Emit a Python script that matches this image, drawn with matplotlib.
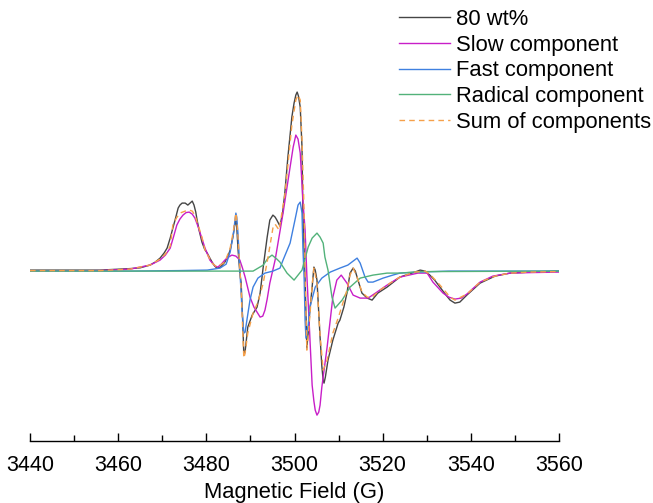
# -*- coding: utf-8 -*-
"""
EPR spectrum of the 80 wt% sample with its simulated components
"""

import matplotlib
matplotlib.use('Agg')
import matplotlib.pyplot as plt
from matplotlib.ticker import MultipleLocator

plt.rcParams['font.family'] = ['Liberation Sans', 'DejaVu Sans']

# Values: magnetic field (G) and intensity (a.u.)
field_exp = [3440.0, 3455.9, 3462.7, 3465.0, 3467.2, 3468.4, 3469.5, 3470.4, 3471.1, 3471.8,
             3472.4, 3472.9, 3473.6, 3474.0, 3474.5, 3475.2, 3475.8, 3476.3, 3476.8, 3477.2,
             3477.6, 3477.9, 3478.4, 3479.0, 3479.6, 3480.2, 3480.8, 3481.3, 3481.9, 3482.4,
             3483.2, 3484.2, 3484.9, 3485.4, 3486.1, 3486.5, 3486.7, 3486.9, 3487.2, 3487.6,
             3487.9, 3488.3, 3488.5, 3488.8, 3489.4, 3490.4, 3491.5, 3492.2, 3492.9, 3493.8,
             3494.4, 3495.1, 3495.6, 3496.0, 3496.7, 3497.3, 3497.8, 3498.5, 3499.4, 3499.9,
             3500.3, 3500.6, 3500.9, 3501.3, 3501.7, 3501.9, 3502.4, 3502.8, 3503.1, 3503.5,
             3504.0, 3504.4, 3504.7, 3505.1, 3505.8, 3506.2, 3506.5, 3506.7, 3507.0, 3507.6,
             3508.7, 3509.9, 3510.3, 3511.2, 3511.9, 3512.6, 3513.3, 3513.8, 3514.2, 3515.3,
             3516.5, 3517.6, 3518.9, 3521.0, 3523.9, 3527.3, 3528.5, 3529.6, 3530.7, 3531.8,
             3533.0, 3534.2, 3535.3, 3536.4, 3537.5, 3539.1, 3542.1, 3545.5, 3548.9, 3553.4,
             3560.0]
exp_80 = [1, 1, 2.5, 3.3, 6, 9, 13, 18, 23, 33,
          43, 51, 63, 66, 68, 68, 66, 68, 70, 66,
          59, 51, 40, 29, 22, 18, 13, 9, 5, 3,
          4, 9, 15, 21, 36, 48, 50, 44, 21, -2,
          -12, -56, -84, -80, -56, -44, -36, -22, 4, 34,
          51, 56, 54, 51, 45, 58, 78, 114, 154, 168,
          176, 179, 175, 164, 124, 58, -9, -77, -62, -39,
          -16, 4, 1, -9, -66, -95, -109, -112, -106, -89,
          -69, -52, -49, -36, -22, -2, 3, 0, -6, -22,
          -27, -29, -22, -16, -6, -1, 1, 0, -4, -9,
          -16, -23, -29, -32, -31, -24, -12, -5, -2, -1,
          0]

field_slow = [3440.0, 3455.9, 3462.7, 3467.2, 3469.5, 3470.7, 3471.8, 3472.6, 3473.3, 3474.0,
              3474.7, 3475.4, 3476.1, 3476.8, 3477.4, 3478.0, 3478.6, 3479.7, 3480.8, 3482.0,
              3482.6, 3483.4, 3484.2, 3485.0, 3485.8, 3486.7, 3487.6, 3488.2, 3488.8, 3489.9,
              3490.8, 3491.5, 3492.2, 3492.8, 3493.3, 3493.8, 3494.4, 3495.6, 3497.4, 3499.0,
              3499.7, 3500.3, 3500.8, 3501.3, 3501.9, 3502.4, 3502.8, 3503.3, 3504.0, 3504.4,
              3504.7, 3505.1, 3505.5, 3505.8, 3506.2, 3507.4, 3508.7, 3509.6, 3510.6, 3511.9,
              3513.3, 3514.9, 3516.7, 3518.7, 3521.0, 3523.9, 3528.0, 3530.1, 3531.4, 3533.7,
              3535.0, 3536.4, 3537.8, 3539.1, 3542.1, 3545.0, 3548.9, 3553.4, 3560.0]
slow = [0, 0.5, 2, 6, 11, 16, 23, 35, 46, 52,
        56, 58.5, 59, 57, 53, 46, 38, 23, 11, 5,
        4, 7, 11, 14, 16, 15, 11, 3, -6, -26,
        -36, -41, -46, -45, -39, -28, -12, 11, 58, 104,
        124, 136, 132, 118, 71, 41, -4, -49, -114, -130,
        -139, -144, -141, -134, -116, -76, -26, -9, -4, -12,
        -24, -27, -27, -21, -14, -6, -2, -2, -11, -22,
        -26, -28, -27, -23, -11, -5, -2, -1.5, -1]

field_fast = [3440.0, 3462.7, 3473.6, 3480.2, 3483.1, 3484.5, 3485.4, 3486.1, 3486.5, 3486.7,
              3486.9, 3487.2, 3487.6, 3488.1, 3488.5, 3488.8, 3489.2, 3489.9, 3490.6, 3491.7,
              3493.3, 3495.1, 3496.7, 3497.4, 3499.0, 3500.1, 3500.8, 3501.3, 3501.7, 3501.9,
              3502.2, 3502.4, 3502.6, 3503.1, 3503.5, 3504.7, 3506.2, 3508.1, 3510.3, 3512.1,
              3513.3, 3514.2, 3514.9, 3516.0, 3516.7, 3517.8, 3520.1, 3522.3, 3523.9, 3528.0,
              3535.0, 3560.0]
fast = [0, 0, 0.5, 1, 3, 7, 19, 36, 51, 58,
        54, 36, 1, -39, -62, -61, -49, -29, -16, -7,
        -2, 0, 3, 11, 28, 51, 66, 69, 58, 24,
        -9, -49, -67, -54, -36, -16, -7, -1, 3, 6,
        10, 13, 8, -6, -11, -11, -7, -4, -2, -1,
        0, 0]

field_rad = [3440.0, 3490.6, 3492.9, 3494.0, 3494.9, 3496.0, 3496.7, 3498.3, 3499.9, 3501.7,
             3503.1, 3504.0, 3505.1, 3505.8, 3506.5, 3506.9, 3507.6, 3508.5, 3509.2, 3510.8,
             3512.6, 3514.9, 3517.8, 3521.0, 3523.9, 3528.5, 3560.0]
radical = [0, 0, 6, 13, 16, 12, 9, -2, -9, 1,
           24, 33, 38, 34, 28, 14, 1, -26, -37, -29,
           -16, -7, -4, -2, -2, -0.5, 0]

field_sum = [3440.0, 3455.9, 3462.7, 3467.2, 3469.5, 3470.7, 3471.8, 3472.4, 3473.2, 3474.0,
             3475.2, 3476.1, 3476.8, 3477.4, 3477.9, 3479.0, 3479.7, 3481.3, 3482.4, 3484.2,
             3485.4, 3486.1, 3486.7, 3486.9, 3487.2, 3487.9, 3488.3, 3488.5, 3488.8, 3489.4,
             3490.6, 3491.7, 3492.9, 3494.0, 3495.1, 3495.6, 3496.5, 3497.8, 3498.5, 3499.4,
             3500.3, 3500.8, 3501.3, 3501.7, 3502.2, 3502.4, 3502.8, 3503.5, 3504.0, 3504.4,
             3505.1, 3505.8, 3506.5, 3507.4, 3508.7, 3509.9, 3511.9, 3512.6, 3513.3, 3514.2,
             3515.3, 3516.5, 3517.6, 3519.4, 3521.7, 3523.9, 3527.3, 3529.6, 3530.7, 3533.0,
             3535.3, 3536.4, 3539.1, 3542.1, 3545.5, 3548.9, 3553.4, 3560.0]
sum_comp = [0.5, 0.5, 2, 6, 12, 17, 25, 46, 53, 58,
            60, 61, 60, 56, 49, 34, 21, 8, 4, 9,
            23, 39, 58, 52, 33, -19, -64, -87, -82, -62,
            -42, -31, -12, 14, 43, 47, 41, 76, 106, 146,
            171, 176, 171, 131, 56, 1, -79, -44, -14, 3,
            -12, -64, -99, -89, -62, -47, -19, -4, 3, -6,
            -21, -26, -26, -19, -12, -6, -1, 0, -3, -14,
            -26, -29, -23, -11, -5, -2, -1, -0.5]

fig = plt.figure(figsize=(6.53, 5.03), dpi=100)
ax = fig.add_axes([0.046, 0.123, 0.810, 0.857])

ax.plot(field_exp, exp_80, color='#454545', lw=1.0, label='80 wt%')
ax.plot(field_slow, slow, color='#C81EC8', lw=1.0, label='Slow component')
ax.plot(field_fast, fast, color='#3F80E0', lw=1.0, label='Fast component')
ax.plot(field_rad, radical, color='#52B27A', lw=1.0, label='Radical component')
ax.plot(field_sum, sum_comp, color='#F5A04A', lw=1.0, ls=(0, (4, 3)), label='Sum of components')

ax.set_xlim(3440, 3560)
ax.set_ylim(-170, 261)
ax.xaxis.set_major_locator(MultipleLocator(20))
ax.xaxis.set_minor_locator(MultipleLocator(10))
ax.tick_params(axis='x', which='both', direction='in', labelsize=15.5, pad=10, width=1.0)
ax.tick_params(axis='x', which='major', length=6)
ax.tick_params(axis='x', which='minor', length=4)
ax.set_yticks([])
for side in ['top', 'right', 'left']:
    ax.spines[side].set_visible(False)
ax.spines['bottom'].set_linewidth(1.0)
ax.set_xlabel('Magnetic Field (G)', fontsize=15.8, labelpad=4.5)

leg = fig.legend(loc='upper right', bbox_to_anchor=(1.028, 1.022), frameon=False,
                 fontsize=15.8, handlelength=2.3, handletextpad=0.3, labelspacing=0.22)
for line in leg.get_lines():
    line.set_linewidth(1.0)

fig.savefig('out.png', dpi=100)
